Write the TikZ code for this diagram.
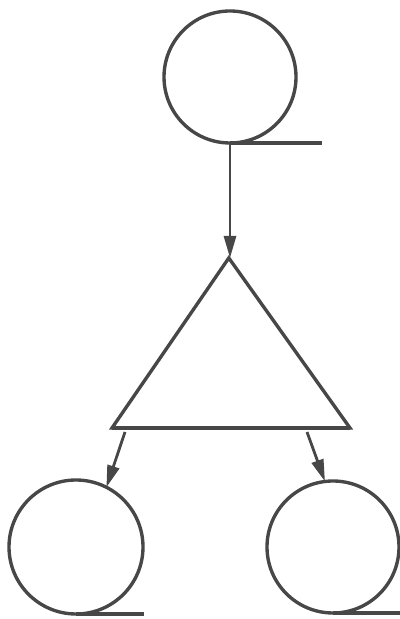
\documentclass[tikz,border=0pt]{standalone}
\usepackage{tikz}
\usetikzlibrary{
	arrows.meta,
	positioning,
	calc
}
\usepackage{xcolor}
\definecolor{ink}{HTML}{474747}

\begin{document}
\begin{tikzpicture}[
		>={Triangle[length=5.5mm,width=3mm]},
		line width=2.4pt,
		ink,
		ball/.style={
			circle,
			draw=ink,
			line width=2.4pt,
			inner sep=0pt,
			outer sep=0pt
		},
		flow/.style={
			->,
			draw=ink,
			line width=2pt
		}
		]
		\useasboundingbox (0,0) rectangle (10,15.475);
		
		% Top
		\node[ball,minimum size=3.3cm] (top) at (5.75,13.55) {};
		\coordinate (topend) at ($(top.south)+(2.3,0)$);
		\draw (top.south) -- (topend);
		
		% Triangle
		\coordinate (apex) at (5.72,9.025);
		\coordinate (baseL) at (2.8,4.775);
		\coordinate (baseR) at (8.75,4.775);
		\draw[line join=miter] (apex) -- (baseR) -- (baseL) -- cycle;
		\draw[line width=3pt] (baseL) -- (baseR);
		
		% Bottom
		\node[ball,minimum size=3.35cm] (left) at (1.9,1.8) {};
		\node[ball,minimum size=3.3cm] (right) at (8.325,1.8) {};
		\coordinate (leftend) at ($(left.south)+(1.7,0)$);
		\coordinate (rightend) at ($(right.south)+(1.8,0)$);
		\draw (left.south) -- (leftend);
		\draw (right.south) -- (rightend);
		
		% Connections
		\coordinate (outL) at (3.125,4.675);
		\coordinate (outR) at (7.675,4.675);
		\draw[flow] (top.south) -- (top.south |- apex);
		\draw[flow] (outL) -- (left.63);
		\draw[flow] (outR) -- (right.97);
		
	\end{tikzpicture}
\end{document}
